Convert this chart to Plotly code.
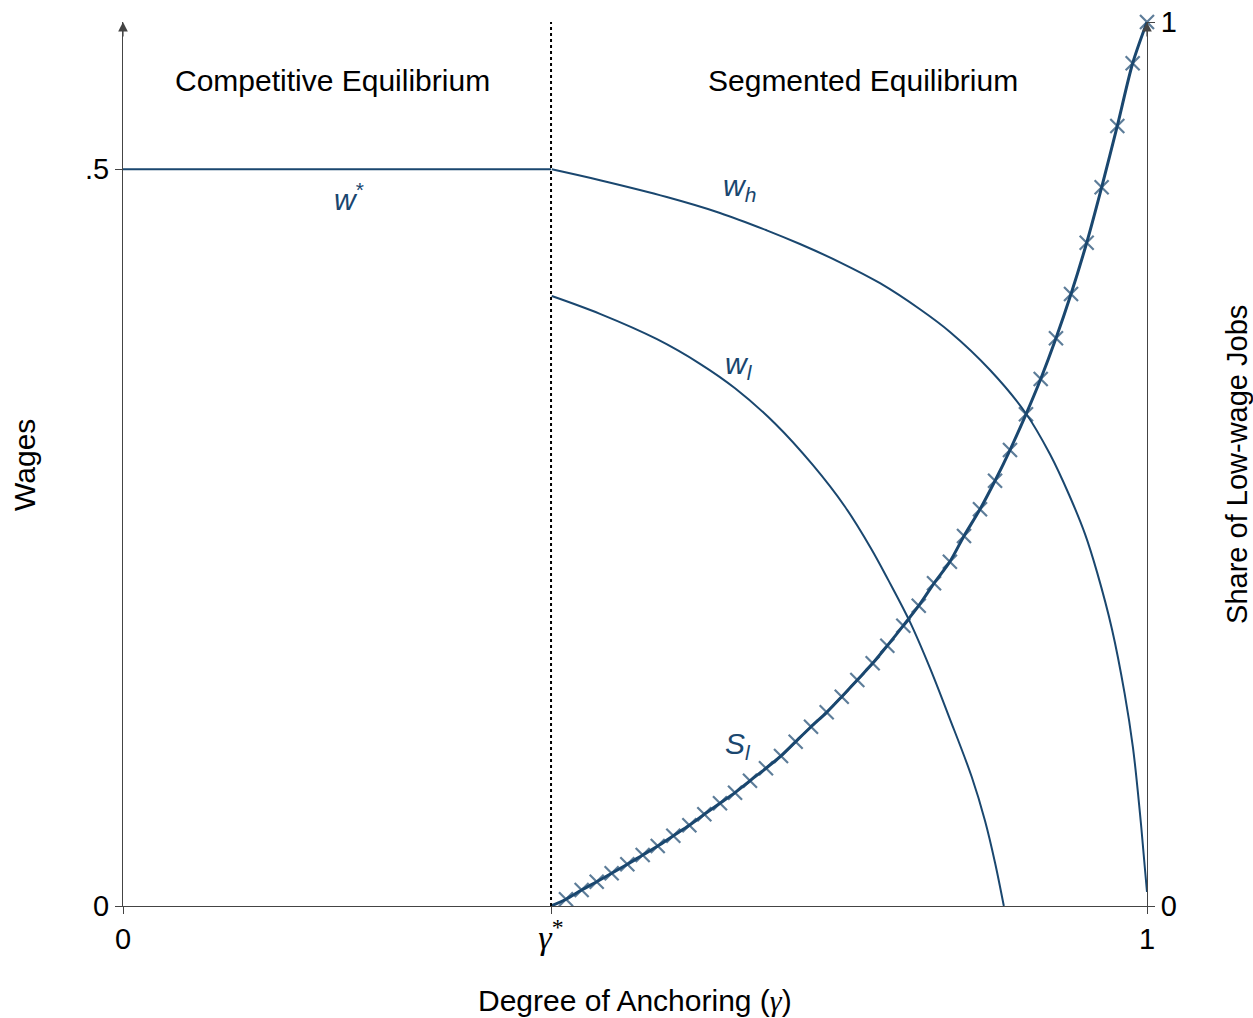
import plotly.graph_objects as go

NAVY = "#1a476f"
AXIS = "#444444"
FONT = "Liberation Sans"

gamma_star = 0.418

# w* (competitive wage)
wstar_x = [0.0, 0.418]
wstar_y = [0.5, 0.5]

# w_h (high wage)
wh_x = [0.4187, 0.4658, 0.531, 0.583, 0.6286, 0.6611, 0.7002, 0.7393, 0.7783, 0.8076, 0.8467,
        0.8818, 0.9053, 0.9241, 0.9395, 0.9512, 0.9658, 0.9781, 0.9863, 0.9932, 0.998, 1.0]
wh_y = [0.5, 0.4926, 0.4812, 0.4704, 0.4586, 0.4493, 0.4369, 0.4227, 0.405, 0.3896, 0.3638,
        0.3343, 0.3066, 0.2788, 0.2524, 0.2266, 0.1879, 0.1445, 0.1075, 0.0624, 0.0251, 0.0095]

# w_l (low wage)
wl_x = [0.4187, 0.4658, 0.5215, 0.5635, 0.5977, 0.6367, 0.6738, 0.7051, 0.7305, 0.7474, 0.7686,
        0.7881, 0.8066, 0.8288, 0.8418, 0.8516, 0.8602]
wl_y = [0.414, 0.4019, 0.3847, 0.368, 0.3514, 0.3275, 0.2992, 0.271, 0.2427, 0.2212, 0.1927,
        0.1615, 0.1286, 0.0877, 0.0579, 0.0294, 0.0]

# S_l (share of low-wage jobs), right axis
sl_x = [0.418, 0.4326, 0.4479, 0.4626, 0.4772, 0.4925, 0.5075, 0.5222, 0.5374, 0.5531, 0.5677,
        0.583, 0.5977, 0.6123, 0.6279, 0.6426, 0.6569, 0.6719, 0.6872, 0.7019, 0.7171,
        0.7321, 0.7464, 0.762, 0.7771, 0.792, 0.8075, 0.8213, 0.8369, 0.8516, 0.8662,
        0.8818, 0.8962, 0.9111, 0.9258, 0.9411, 0.9557, 0.971, 0.986, 1.0]
sl_y = [0.0, 0.0076, 0.0181, 0.0275, 0.037, 0.0472, 0.0577, 0.0679, 0.0795, 0.0913, 0.1037,
        0.1162, 0.1282, 0.1417, 0.1558, 0.1697, 0.1859, 0.2028, 0.2191, 0.2368, 0.2557,
        0.2745, 0.2945, 0.3171, 0.3397, 0.365, 0.3895, 0.4186, 0.4488, 0.4811, 0.5158,
        0.5562, 0.5962, 0.6422, 0.6923, 0.7503, 0.813, 0.8824, 0.9533, 1.0]

GAMMA = '<span style="font-family:Liberation Serif;font-size:34px"><i>γ</i></span>'
x_tickvals = [0, gamma_star, 1]
x_ticktext = ["0", GAMMA + '<span style="font-family:Liberation Serif;font-size:34px"><sup>*</sup></span>', "1"]
y_tickvals = [0, 0.5]
y_ticktext = ["0", ".5"]
y2_tickvals = [0, 1]
y2_ticktext = ["0", "1"]

fig = go.Figure()
fig.add_trace(go.Scatter(x=wstar_x, y=wstar_y, mode="lines", line=dict(color=NAVY, width=2),
                         cliponaxis=False, showlegend=False))
fig.add_trace(go.Scatter(x=wh_x, y=wh_y, mode="lines", line=dict(color=NAVY, width=2, shape="spline", smoothing=1.0),
                         cliponaxis=False, showlegend=False))
fig.add_trace(go.Scatter(x=wl_x, y=wl_y, mode="lines", line=dict(color=NAVY, width=2, shape="spline", smoothing=1.0),
                         cliponaxis=False, showlegend=False))
fig.add_trace(go.Scatter(x=sl_x, y=sl_y, yaxis="y2", mode="lines+markers",
                         line=dict(color=NAVY, width=3, shape="spline", smoothing=0.8),
                         marker=dict(symbol="x-thin", size=[0] + [14] * (len(sl_x) - 1),
                                     line=dict(color=NAVY, width=2.2), color=NAVY),
                         cliponaxis=False, showlegend=False))

tickfont = dict(family=FONT, size=29, color="black")
axis_common = dict(showgrid=False, zeroline=False, showline=True, linecolor=AXIS, linewidth=1,
                   ticks="outside", ticklen=7, tickcolor=AXIS, tickfont=tickfont, ticklabeloverflow="allow",
                   automargin=False)
fig.update_layout(
    width=1253, height=1018,
    margin=dict(l=123, r=106, t=22, b=112, autoexpand=False),
    paper_bgcolor="white", plot_bgcolor="white",
    font=dict(family=FONT, size=29, color="black"),
    xaxis=dict(range=[0, 1], tickvals=x_tickvals, ticktext=x_ticktext, **axis_common),
    yaxis=dict(range=[0, 0.6], tickvals=y_tickvals, ticktext=y_ticktext, **axis_common),
    yaxis2=dict(range=[0, 1], overlaying="y", side="right", tickvals=y2_tickvals, ticktext=y2_ticktext,
                **axis_common),
)

fig.add_shape(type="line", xref="x", yref="y", x0=gamma_star, x1=gamma_star, y0=0, y1=0.6,
              line=dict(color="black", width=2, dash="dot"))

# axis arrowheads
fig.add_annotation(x=0, y=0.6, xref="x", yref="y", text="", showarrow=True, ax=0, ay=16,
                   arrowhead=2, arrowsize=1.6, arrowwidth=1.2, arrowcolor=AXIS, standoff=0)
fig.add_annotation(x=1, y=1, xref="x", yref="y2", text="", showarrow=True, ax=0, ay=16,
                   arrowhead=2, arrowsize=1.6, arrowwidth=1.2, arrowcolor=AXIS, standoff=0)

txt_font = dict(family=FONT, size=30, color="black")
# region texts
fig.add_annotation(x=0.205, y=0.5604, xref="x", yref="y", text="Competitive Equilibrium", showarrow=False,
                   xanchor="center", yanchor="middle", font=txt_font)
fig.add_annotation(x=0.7227, y=0.5604, xref="x", yref="y", text="Segmented Equilibrium", showarrow=False,
                   xanchor="center", yanchor="middle", font=txt_font)

# curve labels
lab_font = dict(family=FONT, size=30, color=NAVY)
fig.add_annotation(x=0.2207, y=0.481, xref="x", yref="y", text="<i>w</i><sup>*</sup>", showarrow=False,
                   xanchor="center", yanchor="middle", font=lab_font)
fig.add_annotation(x=0.6025, y=0.4878, xref="x", yref="y", text="<i>w<sub>h</sub></i>", showarrow=False,
                   xanchor="center", yanchor="middle", font=lab_font)
fig.add_annotation(x=0.6016, y=0.367, xref="x", yref="y", text="<i>w<sub>l</sub></i>", showarrow=False,
                   xanchor="center", yanchor="middle", font=lab_font)
fig.add_annotation(x=0.6006, y=0.109, xref="x", yref="y", text="<i>S<sub>l</sub></i>", showarrow=False,
                   xanchor="center", yanchor="middle", font=lab_font)

# axis titles
fig.add_annotation(x=0.5, y=0, xref="paper", yref="paper", xanchor="center", yanchor="middle", yshift=-94,
                   text='Degree of Anchoring (<span style="font-family:Liberation Serif"><i>γ</i></span>)',
                   showarrow=False, font=txt_font)
fig.add_annotation(x=-0.0957, y=0.499, xref="paper", yref="paper", xanchor="center", yanchor="middle",
                   text="Wages", textangle=-90, showarrow=False, font=txt_font)
fig.add_annotation(x=1.0879, y=0.499, xref="paper", yref="paper", xanchor="center", yanchor="middle",
                   text="Share of Low-wage Jobs", textangle=-90, showarrow=False,
                   font=dict(family=FONT, size=29, color="black"))

fig.write_html("out.html", config={"displayModeBar": False},
               post_script="document.body.style.margin='0';")
